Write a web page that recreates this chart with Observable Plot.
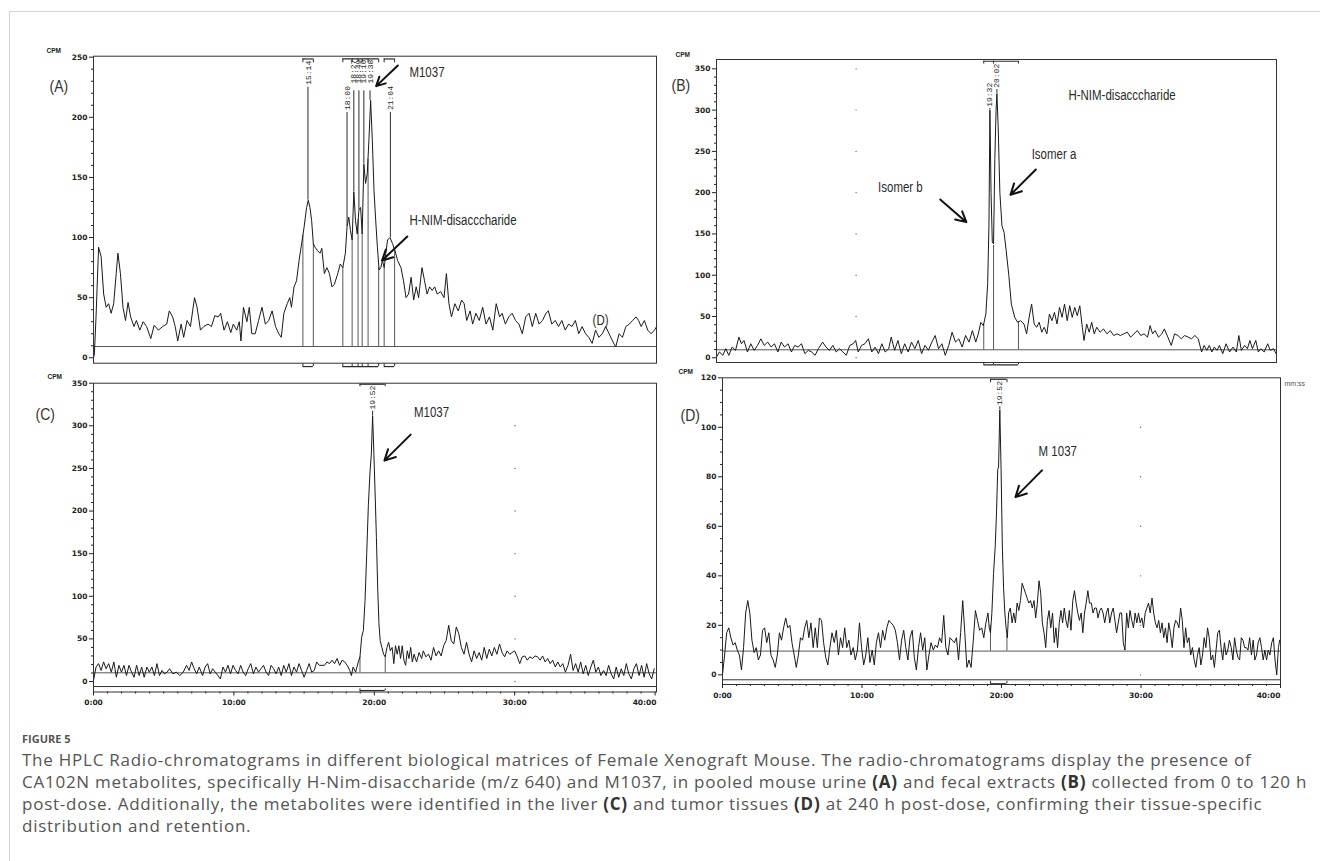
<!DOCTYPE html>
<html>
<head>
<meta charset="utf-8">
<script src="https://cdn.jsdelivr.net/npm/d3@7"></script>
<script src="https://cdn.jsdelivr.net/npm/@observablehq/plot@0.6"></script>
<style>
  html, body { margin: 0; padding: 0; background: #fff; }
  #fig { position: relative; width: 1320px; height: 861px; overflow: hidden; background: #fff; }
  #border { position: absolute; left: 9px; top: 11px; width: 1320px; height: 860px; border-left: 1px solid #d4d4d4; border-top: 1px solid #d4d4d4; }
  .panel { position: absolute; }
  .panel svg { overflow: visible; }
  #caption { position: absolute; left: 22px; top: 731px; white-space: nowrap; color: #555; font-family: "Open Sans", "Noto Sans", sans-serif; }
  #caption .fig { font-size: 11px; font-weight: 700; line-height: 16px; letter-spacing: 0px; }
  #caption .txt { font-size: 17px; line-height: 22px; margin-top: 2px; letter-spacing: 0.75px; }
  #caption b { font-weight: 700; color: #333; }
</style>
</head>
<body>
<div id="fig">
  <div id="border"></div>
  <div class="panel" id="pA" style="left:0px;top:40px;"></div>
  <div class="panel" id="pB" style="left:660px;top:40px;"></div>
  <div class="panel" id="pC" style="left:0px;top:365px;"></div>
  <div class="panel" id="pD" style="left:660px;top:365px;"></div>
  <div id="caption">
    <div class="fig">FIGURE 5</div>
    <div class="txt">The HPLC Radio-chromatograms in different biological matrices of Female Xenograft Mouse. The radio-chromatograms display the presence of<br>CA102N metabolites, specifically H-Nim-disaccharide (m/z 640) and M1037, in pooled mouse urine <b>(A)</b> and fecal extracts <b>(B)</b> collected from 0 to 120 h<br>post-dose. Additionally, the metabolites were identified in the liver <b>(C)</b> and tumor tissues <b>(D)</b> at 240 h post-dose, confirming their tissue-specific<br>distribution and retention.</div>
  </div>
</div>
<script>
// ---------------- Panel A : pooled urine ----------------
const timeA = [0.00,0.06,0.18,0.36,0.54,0.72,0.90,1.07,1.25,1.43,1.61,
1.73,1.91,2.09,2.27,2.45,2.63,2.87,3.04,3.28,3.52,
3.76,4.06,4.30,4.60,4.90,5.19,5.37,5.61,5.79,5.97,
6.21,6.39,6.63,6.87,7.16,7.34,7.58,7.82,8.12,8.36,
8.60,8.84,9.01,9.25,9.49,9.73,9.91,10.15,10.33,10.45,
10.63,10.87,11.04,11.22,11.46,11.70,11.94,12.18,12.42,12.66,
12.90,13.13,13.31,13.49,13.73,13.91,14.03,14.21,14.39,14.57,
14.75,14.93,15.10,15.22,15.34,15.46,15.58,15.70,15.88,16.06,
16.18,16.36,16.54,16.72,16.90,17.07,17.31,17.49,17.67,17.85,
17.97,18.09,18.21,18.33,18.45,18.57,18.69,18.81,18.93,19.04,
19.16,19.28,19.40,19.52,19.64,19.76,19.88,20.00,20.12,20.24,
20.36,20.48,20.60,20.72,20.84,21.01,21.19,21.37,21.55,21.79,
21.97,22.15,22.33,22.51,22.69,22.87,23.04,23.28,23.46,23.64,
23.82,24.00,24.18,24.36,24.60,24.84,25.01,25.19,25.37,25.61,
25.85,26.09,26.27,26.45,26.69,26.87,27.10,27.34,27.58,27.82,
28.06,28.30,28.54,28.78,28.96,29.19,29.43,29.67,29.91,30.15,
30.39,30.63,30.87,31.10,31.34,31.58,31.82,32.06,32.24,32.48,
32.72,32.96,33.19,33.43,33.67,33.91,34.15,34.39,34.63,34.87,
35.10,35.34,35.58,35.82,36.06,36.30,36.54,36.78,37.01,37.25,
37.49,37.73,37.97,38.21,38.45,38.63,38.81,39.04,39.28,39.52,
39.76,39.91];
const cpmA = [0,3,34,92,84,53,42,45,37,45,70,
87,70,42,31,46,34,26,31,23,30,
26,16,27,23,26,28,39,34,26,14,
28,17,31,26,50,42,23,26,28,26,
35,34,37,23,30,21,28,23,30,14,
42,30,42,20,20,31,42,28,31,39,
26,20,17,37,45,50,42,59,64,81,
95,109,125,131,125,114,95,92,89,87,
91,70,75,70,59,61,70,78,75,87,
109,117,106,98,138,114,103,123,125,103,
161,145,153,181,214,181,139,114,92,73,
75,81,75,87,98,100,95,89,81,75,
64,50,53,67,48,59,50,75,64,53,
59,56,59,53,55,50,70,45,34,45,
39,48,45,31,39,28,37,31,42,28,
34,23,45,34,37,28,34,37,31,28,
20,34,37,26,37,28,31,37,39,28,
31,26,31,23,28,26,31,20,26,20,
17,12,23,17,20,26,20,14,9,20,
17,26,28,31,34,31,26,31,23,20,
23,26];
const peakLabelsA = ["15:14","18:00","18:27","18:49","19:10","19:38","21:04"];
const peakTimesA = [15.20, 17.97, 18.45, 18.81, 19.16, 19.60, 21.04];
const peakTopsA = [131, 109, 138, 123, 161, 214, 100];
const peakLineTopsA = [225, 204, 222, 222, 222, 222, 204];
const peakLabelYA = [227, 206, 228, 228, 228, 228, 206];
const dropTimesA = [14.84, 15.58, 17.67, 18.33, 18.75, 19.04, 19.46, 20.21, 20.60, 21.34];
const dropHeightsA = [102, 95, 75, 98, 115, 103, 165, 75, 75, 90];
const groupStartA = [14.84, 17.67, 20.60];
const groupEndA = [15.58, 20.21, 21.34];
const yTicksA = [0, 50, 100, 150, 200, 250];
const yMinorA = [10,20,30,40,60,70,80,90,110,120,130,140,160,170,180,190,210,220,230,240];

// ---------------- Panel B : fecal extracts ----------------
const timeB = [0.00,0.21,0.45,0.66,0.88,1.12,1.36,1.60,1.78,1.96,
2.21,2.45,2.69,2.93,3.17,3.41,3.66,3.90,4.14,4.38,
4.62,4.86,5.11,5.35,5.59,5.83,6.07,6.31,6.56,6.80,
7.04,7.28,7.58,7.82,8.07,8.31,8.55,8.79,9.03,9.27,
9.52,9.76,9.94,10.12,10.36,10.60,10.85,11.09,11.33,11.57,
11.81,12.05,12.30,12.48,12.72,12.96,13.20,13.44,13.69,13.93,
14.17,14.41,14.65,14.89,15.14,15.38,15.62,15.86,16.10,16.34,
16.59,16.83,17.07,17.31,17.55,17.79,18.04,18.28,18.52,18.70,
18.88,19.06,19.24,19.37,19.46,19.53,19.61,19.70,19.79,19.88,
19.97,20.03,20.12,20.24,20.39,20.54,20.69,20.88,21.06,21.30,
21.51,21.72,21.96,22.15,22.33,22.51,22.69,22.87,23.05,23.23,
23.41,23.60,23.78,23.96,24.14,24.32,24.50,24.68,24.86,25.05,
25.23,25.41,25.59,25.77,25.95,26.13,26.25,26.44,26.62,26.80,
26.98,27.16,27.40,27.64,27.89,28.13,28.37,28.61,28.85,29.09,
29.34,29.58,29.82,30.06,30.30,30.54,30.79,30.97,31.15,31.33,
31.57,31.81,31.99,32.24,32.48,32.72,32.96,33.20,33.44,33.69,
33.93,34.17,34.41,34.65,34.83,35.02,35.20,35.38,35.56,35.74,
35.92,36.16,36.40,36.65,36.89,37.13,37.31,37.49,37.73,37.92,
38.10,38.28,38.52,38.70,38.88,39.12,39.37,39.55,39.79,39.97];
const cpmB = [1,7,3,11,3,13,9,25,17,21,
7,17,9,15,23,15,19,13,17,7,
19,13,17,7,15,13,17,5,9,7,
3,11,19,13,9,15,7,11,7,3,
15,17,21,7,15,17,23,7,13,5,
17,7,11,25,9,21,5,17,7,19,
11,21,5,15,9,19,27,11,17,3,
15,31,19,23,13,27,19,33,19,29,
43,39,53,90,160,300,200,140,138,240,
300,320,280,200,160,152,130,100,65,49,
43,45,41,29,49,65,41,37,43,31,
37,29,53,45,55,41,61,49,65,45,
63,49,61,51,63,37,21,41,31,43,
29,37,31,35,29,33,27,29,27,29,
31,25,29,33,27,29,25,39,29,33,
25,29,35,25,15,29,27,23,27,25,
23,27,23,7,15,9,15,7,13,9,
15,5,17,7,13,7,27,9,15,11,
21,11,21,7,11,7,17,9,11,5];
const peakLabelsB = ["19:32","20:02"];
const peakTimesB = [19.53, 20.03];
const peakTopsB = [300, 320];
const peakLineTopsB = [302, 325];
const peakLabelYB = [304, 327];
const dropTimesB = [19.09, 19.79, 21.57];
const dropHeightsB = [41, 136, 44];
const groupStartB = [19.09];
const groupEndB = [21.57];
const yTicksB = [0, 50, 100, 150, 200, 250, 300, 350];
const yMinorB = [10,20,30,40,60,70,80,90,110,120,130,140,160,170,180,190,210,220,230,240,260,270,280,290,310,320,330,340];

// ---------------- Panel C : liver ----------------
const timeC = [0.00,0.18,0.36,0.54,0.72,0.90,1.08,1.27,1.45,1.63,
1.81,1.99,2.17,2.35,2.53,2.71,2.89,3.07,3.25,3.43,
3.61,3.80,3.98,4.16,4.34,4.52,4.70,4.88,5.06,5.24,
5.42,5.66,5.90,6.14,6.39,6.63,6.81,6.99,7.17,7.35,
7.53,7.77,7.95,8.13,8.31,8.49,8.67,8.86,9.04,9.22,
9.40,9.58,9.76,9.94,10.12,10.30,10.48,10.66,10.84,11.02,
11.20,11.39,11.57,11.75,11.93,12.11,12.29,12.47,12.65,12.83,
13.01,13.19,13.37,13.55,13.73,13.92,14.10,14.28,14.46,14.64,
14.82,15.00,15.18,15.36,15.54,15.72,15.90,16.08,16.27,16.45,
16.63,16.81,16.99,17.17,17.35,17.53,17.71,17.89,18.07,18.25,
18.37,18.49,18.67,18.86,18.98,19.10,19.22,19.34,19.46,19.58,
19.70,19.79,19.88,19.97,20.06,20.15,20.24,20.33,20.42,20.54,
20.66,20.78,20.90,21.02,21.14,21.27,21.39,21.51,21.63,21.75,
21.87,21.99,22.11,22.23,22.35,22.47,22.59,22.71,22.83,23.01,
23.19,23.37,23.49,23.67,23.86,24.04,24.22,24.40,24.58,24.76,
24.94,25.12,25.30,25.48,25.66,25.84,26.02,26.20,26.39,26.57,
26.75,26.93,27.11,27.29,27.47,27.65,27.83,28.01,28.19,28.37,
28.55,28.73,28.92,29.10,29.28,29.46,29.64,29.82,30.00,30.18,
30.36,30.54,30.72,30.90,31.08,31.27,31.45,31.63,31.81,31.99,
32.17,32.35,32.53,32.71,32.89,33.07,33.25,33.43,33.61,33.80,
33.98,34.16,34.34,34.52,34.70,34.88,35.06,35.24,35.42,35.60,
35.78,35.96,36.14,36.33,36.51,36.69,36.87,37.05,37.23,37.41,
37.59,37.77,37.95,38.13,38.31,38.49,38.67,38.86,39.04,39.22,
39.40,39.58,39.76,39.94];
const cpmC = [1,17,21,13,23,15,21,11,23,5,
19,11,19,7,19,11,5,19,7,17,
5,17,11,17,7,21,7,13,9,11,
15,9,11,7,11,19,13,23,15,9,
17,7,17,21,9,15,11,7,3,17,
11,19,9,19,13,9,19,11,7,15,
21,9,17,11,15,19,11,7,19,15,
9,17,7,19,11,21,7,17,11,21,
13,5,13,21,11,13,23,19,19,19,
23,21,25,21,27,19,25,23,19,13,
7,17,11,23,29,52,60,95,150,208,
247,267,312,267,220,169,111,68,48,40,
32,29,40,46,36,40,21,42,32,42,
27,42,25,19,36,27,40,23,32,23,
34,27,36,29,32,25,40,30,36,30,
42,48,66,48,44,64,56,40,32,46,
32,23,36,27,34,25,40,27,38,30,
40,32,44,34,29,36,32,34,36,29,
21,29,30,25,29,27,30,29,25,30,
23,27,21,25,17,23,17,21,11,19,
32,13,21,11,23,9,19,7,17,25,
11,17,7,13,7,19,9,3,17,5,
15,7,21,9,3,15,21,7,19,5,
21,9,3,15];
const peakLabelsC = ["19:52"];
const peakTimesC = [19.88];
const peakTopsC = [312];
const peakLineTopsC = [317];
const peakLabelYC = [319];
const dropTimesC = [18.98, 20.78];
const dropHeightsC = [29, 29];
const groupStartC = [18.98];
const groupEndC = [20.78];
const yTicksC = [0, 50, 100, 150, 200, 250, 300, 350];
const yMinorC = yMinorB;

// ---------------- Panel D : tumor ----------------
const timeD = [0.00,0.15,0.30,0.45,0.60,0.76,0.91,1.06,1.21,1.36,
1.51,1.66,1.81,1.96,2.11,2.27,2.42,2.57,2.72,2.87,
3.02,3.17,3.32,3.47,3.63,3.78,3.93,4.08,4.23,4.38,
4.53,4.68,4.83,4.98,5.14,5.29,5.44,5.59,5.74,5.89,
6.04,6.19,6.34,6.50,6.65,6.80,6.95,7.10,7.25,7.40,
7.55,7.70,7.85,8.01,8.16,8.31,8.46,8.61,8.76,8.91,
9.06,9.21,9.37,9.52,9.67,9.82,9.97,10.12,10.27,10.42,
10.57,10.73,10.88,11.03,11.18,11.33,11.48,11.63,11.78,11.93,
12.08,12.24,12.39,12.54,12.69,12.84,12.99,13.14,13.29,13.44,
13.60,13.75,13.90,14.05,14.20,14.35,14.50,14.65,14.80,14.95,
15.11,15.26,15.41,15.56,15.71,15.86,16.01,16.16,16.31,16.47,
16.62,16.77,16.92,17.07,17.22,17.37,17.52,17.67,17.82,17.98,
18.13,18.28,18.43,18.58,18.73,18.88,19.03,19.12,19.21,19.31,
19.43,19.55,19.64,19.73,19.79,19.88,19.97,20.06,20.15,20.24,
20.33,20.42,20.51,20.63,20.76,20.88,21.00,21.12,21.24,21.36,
21.48,21.60,21.72,21.84,21.96,22.08,22.21,22.33,22.45,22.57,
22.69,22.81,22.93,23.05,23.17,23.29,23.41,23.53,23.66,23.78,
23.90,24.02,24.14,24.26,24.38,24.50,24.62,24.74,24.86,24.98,
25.11,25.23,25.35,25.47,25.59,25.71,25.83,25.95,26.07,26.19,
26.31,26.44,26.56,26.68,26.80,26.92,27.04,27.16,27.28,27.40,
27.52,27.64,27.76,27.89,28.01,28.13,28.25,28.37,28.49,28.61,
28.73,28.85,28.97,29.09,29.21,29.34,29.46,29.58,29.70,29.82,
29.94,30.06,30.18,30.30,30.42,30.54,30.66,30.79,30.91,31.03,
31.15,31.27,31.39,31.51,31.63,31.75,31.87,31.99,32.11,32.24,
32.36,32.48,32.60,32.72,32.84,32.96,33.08,33.20,33.32,33.44,
33.56,33.69,33.81,33.93,34.05,34.17,34.29,34.41,34.53,34.65,
34.77,34.89,35.02,35.14,35.26,35.38,35.50,35.62,35.74,35.86,
35.98,36.10,36.22,36.34,36.47,36.59,36.71,36.83,36.95,37.07,
37.19,37.31,37.43,37.55,37.67,37.79,37.92,38.04,38.16,38.28,
38.40,38.52,38.64,38.76,38.88,39.00,39.12,39.24,39.37,39.49,
39.61,39.73,39.85,39.94];
const cpmD = [0,8,17,19,15,12,13,10,8,2,
11,25,30,25,14,9,11,6,8,18,
19,13,17,8,6,3,8,17,14,19,
23,19,20,13,8,3,8,15,14,19,
22,15,21,11,19,11,23,22,13,7,
4,11,17,13,18,8,15,11,19,11,
14,8,11,6,10,21,11,4,8,15,
5,10,4,13,17,11,18,14,19,22,
21,20,18,13,6,14,18,11,6,15,
18,7,2,11,17,10,15,2,8,13,
10,12,11,15,13,24,11,8,15,14,
13,15,6,17,30,17,3,6,3,14,
26,22,18,19,15,21,25,19,17,25,
41,52,65,83,84,107,83,52,35,25,
19,15,25,27,21,25,21,29,26,30,
37,35,33,31,29,30,27,30,23,29,
38,33,21,17,11,22,26,19,25,13,
19,11,21,26,21,27,22,19,26,18,
30,34,29,25,22,25,17,25,29,34,
29,29,25,27,27,23,26,27,25,21,
25,27,21,25,27,22,17,21,25,25,
13,10,25,19,26,22,19,25,21,25,
21,23,19,25,27,29,25,31,25,21,
19,22,17,21,15,19,13,21,17,11,
19,22,21,19,27,22,11,19,13,15,
8,11,6,3,8,11,4,8,15,11,
19,15,6,8,3,10,17,18,11,6,
13,8,10,14,11,6,15,10,7,6,
15,14,11,11,10,15,8,14,6,8,
13,15,11,6,10,6,10,8,13,15,
6,0,11,14];
const peakLabelsD = ["19:52"];
const peakTimesD = [19.88];
const peakTopsD = [107];
const peakLineTopsD = [108.3];
const peakLabelYD = [109];
const dropTimesD = [19.21, 20.39];
const dropHeightsD = [20, 16];
const groupStartD = [19.21];
const groupEndD = [20.39];
const yTicksD = [0, 20, 40, 60, 80, 100, 120];
const yMinorD = [5,10,15,25,30,35,45,50,55,65,70,75,85,90,95,105,110,115];

// shared time axis (C, D)
const xTickValues = [0, 10, 20, 30, 40];
const xTickLabels = ["0:00", "10:00", "20:00", "30:00", "40:00"];
const xMinorTicks = [1,2,3,4,5,6,7,8,9,11,12,13,14,15,16,17,18,19,21,22,23,24,25,26,27,28,29,31,32,33,34,35,36,37,38,39];

// annotations (text in data coordinates: start time, cpm)
const notesA = [{text: "M1037", t: 22.39, v: 237.6}, {text: "H-NIM-disacccharide", t: 22.39, v: 114}, {text: "(D)", t: 35.37, v: 31}];
const arrowsA = [{t1: 21.57, v1: 243.1, t2: 20.03, v2: 225.9}, {t1: 22.24, v1: 100.9, t2: 20.45, v2: 80.9}];
const notesB = [{text: "H-NIM-disacccharide", t: 25.14, v: 317.7}, {text: "Isomer a", t: 22.51, v: 246.3}, {text: "Isomer b", t: 11.54, v: 206.7}];
const arrowsB = [{t1: 22.81, v1: 228.1, t2: 21.0, v2: 197.4}, {t1: 15.98, v1: 191.8, t2: 17.85, v2: 164.3}];
const notesC = [{text: "M1037", t: 22.83, v: 315.9}];
const arrowsC = [{t1: 22.59, v1: 289.7, t2: 20.72, v2: 259.2}];
const notesD = [{text: "M 1037", t: 22.66, v: 90.4}];
const arrowsD = [{t1: 22.9, v1: 82.6, t2: 21.0, v2: 71.8}];

const SANS = "'Liberation Sans', Arial, sans-serif";

function chromPanel(c) {
  const series = c.time.map((t, i) => ({t, cpm: c.cpm[i]}));
  const peaks = c.peakLabels.map((label, i) => ({label, t: c.peakTimes[i], top: c.peakTops[i], lineTop: c.peakLineTops[i], labelY: c.peakLabelY[i]}));
  const drops = c.dropTimes.map((t, i) => ({t, h: c.dropHeights[i]}));
  const groups = c.groupStart.map((s, i) => ({s, e: c.groupEnd[i]}));
  const ink = "#2b2b2b";
  const marks = [
    Plot.ruleY([c.baseline], {stroke: "#444", strokeWidth: 0.9}),
    Plot.ruleX(drops, {x: "t", y1: c.baseline, y2: "h", stroke: "#444", strokeWidth: 0.9}),
    Plot.dot(c.dotYs, {x: () => c.dotX, y: d => d, r: 0.7, fill: "#666", stroke: "none"}),
    Plot.line(series, {x: "t", y: "cpm", stroke: "#1a1a1a", strokeWidth: 1}),
    Plot.ruleX(peaks, {x: "t", y1: "top", y2: "lineTop", stroke: ink, strokeWidth: 1}),
    Plot.text(peaks, {x: "t", y: "labelY", text: "label", rotate: -90, textAnchor: "start", lineAnchor: "middle", fontFamily: "'Liberation Mono', 'DejaVu Sans Mono', monospace", fontSize: 8, fontWeight: "normal", fill: "#222"}),
    Plot.ruleY(groups, {y: c.topBr, x1: "s", x2: "e", stroke: ink, strokeWidth: 1.2}),
    Plot.ruleX(c.dropTimes, {x: d => d, y1: c.topBr, y2: c.topBrTick, stroke: ink}),
    Plot.ruleY(groups, {y: c.botBr, x1: "s", x2: "e", stroke: ink, strokeWidth: 1.2}),
    Plot.ruleX(c.dropTimes, {x: d => d, y1: c.botBr, y2: c.botBrTick, stroke: ink}),
    Plot.frame({stroke: "#333", strokeWidth: 1}),
    Plot.axisY({ticks: c.yTicks, tickSize: 4, tickPadding: 2, tickFormat: d => String(d), label: null, fill: "#222"}),
    Plot.axisY({ticks: c.yMinor, tickSize: 2, tickFormat: () => "", label: null}),
    Plot.text(c.notes, {x: "t", y: "v", text: "text", textAnchor: "start", lineAnchor: "middle", fontFamily: SANS, fontSize: 14, fontWeight: "normal", fill: "#2a2a2a", className: "condensed"}),
    Plot.arrow(c.arrows, {x1: "t1", y1: "v1", x2: "t2", y2: "v2", stroke: "#111", strokeWidth: 2, headLength: 9, headAngle: 55}),
    Plot.text(["CPM"], {frameAnchor: "top-left", dx: c.cpmDx, dy: c.cpmDy, text: d => d, fontFamily: SANS, fontSize: 6.5, fontWeight: "bold", fill: "#222"}),
    Plot.text([c.letter], {frameAnchor: "top-left", dx: c.letterDx, dy: c.letterDy, text: d => d, textAnchor: "start", fontFamily: SANS, fontSize: 17, fontWeight: "normal", fill: "#333", className: "condensed"})
  ];
  if (c.innerBottom != null) marks.push(Plot.ruleY([c.innerBottom], {stroke: "#333", strokeWidth: 1}));
  if (c.xAxis) {
    marks.push(Plot.axisX({ticks: xTickValues, tickSize: 4, tickPadding: 4, tickFormat: d => (d === 40 ? "" : xTickLabels[xTickValues.indexOf(d)]), label: null, fill: "#222"}));
    marks.push(Plot.axisX({ticks: xMinorTicks, tickSize: 2, tickFormat: () => "", label: null}));
    marks.push(Plot.text([xTickLabels[4]], {frameAnchor: "bottom-right", dx: 0, dy: 8, text: d => d, textAnchor: "end", lineAnchor: "top", fill: "#222"}));
  }
  if (c.unit) marks.push(Plot.text([c.unit], {frameAnchor: "top-right", dx: 4, dy: 3, text: d => d, textAnchor: "start", fontFamily: SANS, fontSize: 7, fontWeight: "normal", fill: "#555"}));
  return Plot.plot({
    width: c.width, height: c.height,
    marginLeft: c.ml, marginRight: c.mr, marginTop: c.mt, marginBottom: c.mb,
    x: c.xAxis ? {domain: [0, c.xMax]} : {domain: [0, c.xMax], axis: null},
    y: {domain: [c.yMin, c.yMax]},
    style: {background: "transparent", overflow: "visible", fontFamily: "'DejaVu Sans', sans-serif", fontSize: "7.5px", fontWeight: "bold", color: "#222"},
    marks
  });
}

function mount(id, cfg) {
  const svg = chromPanel(cfg);
  document.getElementById(id).append(svg);
  // narrow the annotation lettering like the original Arial Narrow labels
  const nodes = svg.querySelectorAll('.condensed text, text.condensed');
  nodes.forEach(t => {
    const w = t.getComputedTextLength();
    if (w > 0) { t.setAttribute("textLength", (w * 0.82).toFixed(1)); t.setAttribute("lengthAdjust", "spacingAndGlyphs"); }
  });
}

mount("pA", {
  time: timeA, cpm: cpmA, peakLabels: peakLabelsA, peakTimes: peakTimesA, peakTops: peakTopsA, peakLineTops: peakLineTopsA, peakLabelY: peakLabelYA,
  dropTimes: dropTimesA, dropHeights: dropHeightsA, groupStart: groupStartA, groupEnd: groupEndA,
  yTicks: yTicksA, yMinor: yMinorA, baseline: 9.4, dotYs: [], dotX: 0,
  topBr: 248.5, topBrTick: 245.3, botBr: -7.3, botBrTick: -5.0,
  notes: notesA, arrows: arrowsA, letter: "(A)", letterDx: -44, letterDy: 24, cpmDx: -47, cpmDy: -8,
  width: 670, height: 330, ml: 93, mr: 14, mt: 15.7, mb: 7.3, xMax: 39.9, yMin: -4.5, yMax: 250.8, xAxis: false
});

mount("pB", {
  time: timeB, cpm: cpmB, peakLabels: peakLabelsB, peakTimes: peakTimesB, peakTops: peakTopsB, peakLineTops: peakLineTopsB, peakLabelY: peakLabelYB,
  dropTimes: dropTimesB, dropHeights: dropHeightsB, groupStart: groupStartB, groupEnd: groupEndB,
  yTicks: yTicksB, yMinor: yMinorB, baseline: 9.7, dotYs: yTicksB, dotX: 9.97,
  topBr: 359.2, topBrTick: 355.8, botBr: -8.5, botBrTick: -6.5,
  notes: notesB, arrows: arrowsB, letter: "(B)", letterDx: -45, letterDy: 19, cpmDx: -41, cpmDy: -7,
  width: 660, height: 330, ml: 56, mr: 44, mt: 19, mb: 8, xMax: 40, yMin: -5.7, yMax: 361.3, xAxis: false
});

mount("pC", {
  time: timeC, cpm: cpmC, peakLabels: peakLabelsC, peakTimes: peakTimesC, peakTops: peakTopsC, peakLineTops: peakLineTopsC, peakLabelY: peakLabelYC,
  dropTimes: dropTimesC, dropHeights: dropHeightsC, groupStart: groupStartC, groupEnd: groupEndC,
  yTicks: yTicksC, yMinor: yMinorC, baseline: 10.2, dotYs: [0, 50, 100, 150, 200, 250, 300], dotX: 30.03,
  topBr: 348.8, topBrTick: 345.8, botBr: -10.6, botBrTick: -8.6,
  notes: notesC, arrows: arrowsC, letter: "(C)", letterDx: -58, letterDy: 25, cpmDx: -46, cpmDy: -9,
  innerBottom: -5.9,
  width: 670, height: 350, ml: 93, mr: 14, mt: 17.7, mb: 23.5, xMax: 40.1, yMin: -12.3, yMax: 350, xAxis: true
});

mount("pD", {
  time: timeD, cpm: cpmD, peakLabels: peakLabelsD, peakTimes: peakTimesD, peakTops: peakTopsD, peakLineTops: peakLineTopsD, peakLabelY: peakLabelYD,
  dropTimes: dropTimesD, dropHeights: dropHeightsD, groupStart: groupStartD, groupEnd: groupEndD,
  yTicks: yTicksD, yMinor: yMinorD, baseline: 9.6, dotYs: [0, 20, 40, 60, 80, 100], dotX: 29.97,
  topBr: 119.4, topBrTick: 118.0, botBr: -3.6, botBrTick: -2.6,
  notes: notesD, arrows: arrowsD, letter: "(D)", letterDx: -42, letterDy: 31, cpmDx: -44, cpmDy: -8,
  innerBottom: -2.0, unit: "mm:ss",
  width: 660, height: 350, ml: 62, mr: 40, mt: 12.3, mb: 31, xMax: 40, yMin: -3.9, yMax: 120, xAxis: true
});
</script>
</body>
</html>
